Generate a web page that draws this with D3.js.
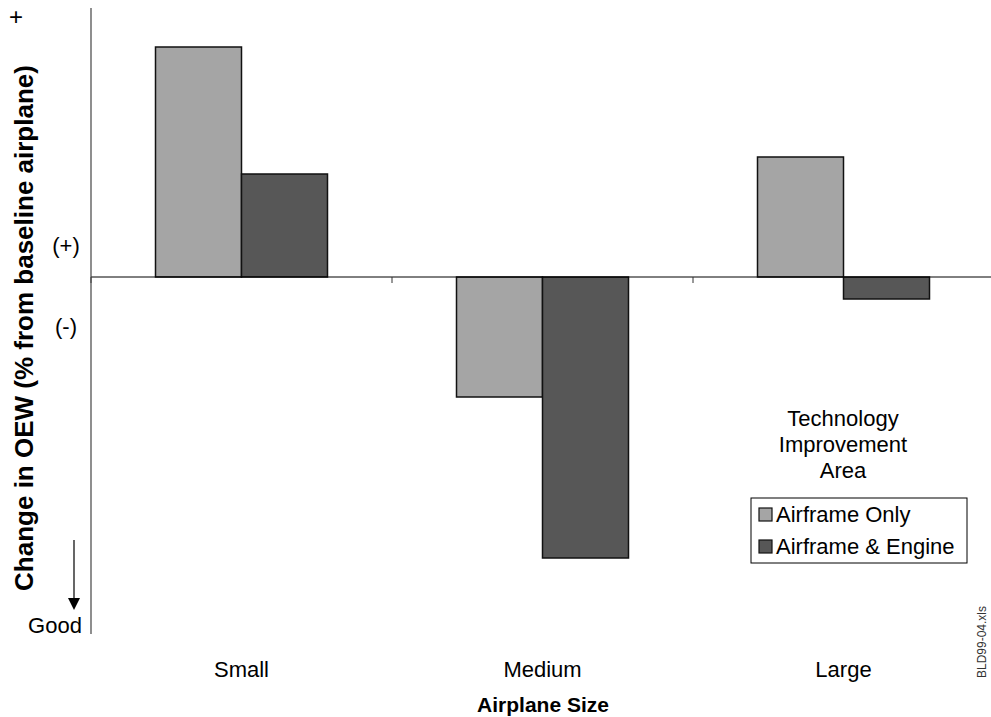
<!DOCTYPE html>
<html><head><meta charset="utf-8">
<script src="https://cdn.jsdelivr.net/npm/d3@7"></script>
<style>body{margin:0;background:#fff}svg{display:block;font-family:"Liberation Sans",Arial,sans-serif}</style>
</head><body>
<svg id="c" width="991" height="717"></svg>
<script>
const categories = ["Small", "Medium", "Large"];
const seriesNames = ["Airframe Only", "Airframe & Engine"];
const airframeOnly = [23.0, -12.0, 12.0];
const airframeEngine = [10.3, -28.1, -2.2];
const legendTitle = ["Technology", "Improvement", "Area"];
const colors = ["#a5a5a5", "#575757"];

const svg = d3.select("#c");
const x0 = 91, x1 = 994, yTop = 8, yBot = 634;
const x = d3.scaleBand().domain(categories).range([x0, x1]).paddingInner(0).paddingOuter(0);
const xs = d3.scaleBand().domain(seriesNames).range([0, x.bandwidth()]).paddingInner(0).paddingOuter(0.75);
const y = d3.scaleLinear().domain([-35.7, 26.9]).range([yBot, yTop]);

const data = categories.map((c, i) => ({c, vals: [airframeOnly[i], airframeEngine[i]]}));

// bars
const g = svg.append("g");
data.forEach(d => {
  d.vals.forEach((v, j) => {
    g.append("rect")
      .attr("x", x(d.c) + xs(seriesNames[j]))
      .attr("width", xs.bandwidth())
      .attr("y", y(Math.max(0, v)))
      .attr("height", Math.abs(y(v) - y(0)))
      .attr("fill", colors[j])
      .attr("stroke", "#111")
      .attr("stroke-width", 1.5);
  });
});

// zero axis line with ticks
svg.append("line").attr("x1", x0).attr("x2", 991).attr("y1", y(0)).attr("y2", y(0)).attr("stroke", "#000").attr("stroke-width", 1);
[0,1,2,3].forEach(i => {
  const tx = x0 + i * x.step();
  svg.append("line").attr("x1", tx).attr("x2", tx).attr("y1", y(0)).attr("y2", y(0) + 6).attr("stroke", "#333").attr("stroke-width", 1);
});

// y axis line
svg.append("line").attr("x1", x0).attr("x2", x0).attr("y1", yTop).attr("y2", yBot).attr("stroke", "#444").attr("stroke-width", 1.2);

// category labels
categories.forEach(c => {
  svg.append("text").attr("x", x(c) + x.bandwidth() / 2).attr("y", 677)
    .attr("text-anchor", "middle").attr("font-size", 22).attr("fill", "#000").text(c);
});

svg.append("text").attr("x", 543).attr("y", 712).attr("text-anchor", "middle")
  .attr("font-size", 21).attr("font-weight", "bold").text("Airplane Size");

svg.append("text").attr("transform", "translate(33,328) rotate(-90)").attr("text-anchor", "middle")
  .attr("font-size", 26).attr("font-weight", "bold").text("Change in OEW (% from baseline airplane)");

svg.append("text").attr("x", 16).attr("y", 25).attr("text-anchor", "middle").attr("font-size", 24).text("+");
svg.append("text").attr("x", 66).attr("y", 253).attr("text-anchor", "middle").attr("font-size", 22).text("(+)");
svg.append("text").attr("x", 66).attr("y", 334).attr("text-anchor", "middle").attr("font-size", 22).text("(-)");
svg.append("text").attr("x", 55).attr("y", 633).attr("text-anchor", "middle").attr("font-size", 22).text("Good");

// arrow
svg.append("line").attr("x1", 74).attr("x2", 74).attr("y1", 540).attr("y2", 600).attr("stroke", "#000").attr("stroke-width", 1.2);
svg.append("path").attr("d", "M68,598 L80,598 L74,610 Z").attr("fill", "#000");

// legend
legendTitle.forEach((t, i) => {
  svg.append("text").attr("x", 843).attr("y", 426 + i * 26).attr("text-anchor", "middle").attr("font-size", 22).text(t);
});
svg.append("rect").attr("x", 751).attr("y", 498).attr("width", 216).attr("height", 65)
  .attr("fill", "#fff").attr("stroke", "#000").attr("stroke-width", 1);
seriesNames.forEach((s, j) => {
  const ly = 508 + j * 32;
  svg.append("rect").attr("x", 759).attr("y", ly).attr("width", 13).attr("height", 13)
    .attr("fill", colors[j]).attr("stroke", "#111").attr("stroke-width", 1.2);
  svg.append("text").attr("x", 776).attr("y", ly + 14).attr("font-size", 22).text(s);
});

// file tag
svg.append("text").attr("transform", "translate(986,678) rotate(-90)").attr("font-size", 12).attr("fill", "#333").text("BLD99-04.xls");
</script>
</body></html>
